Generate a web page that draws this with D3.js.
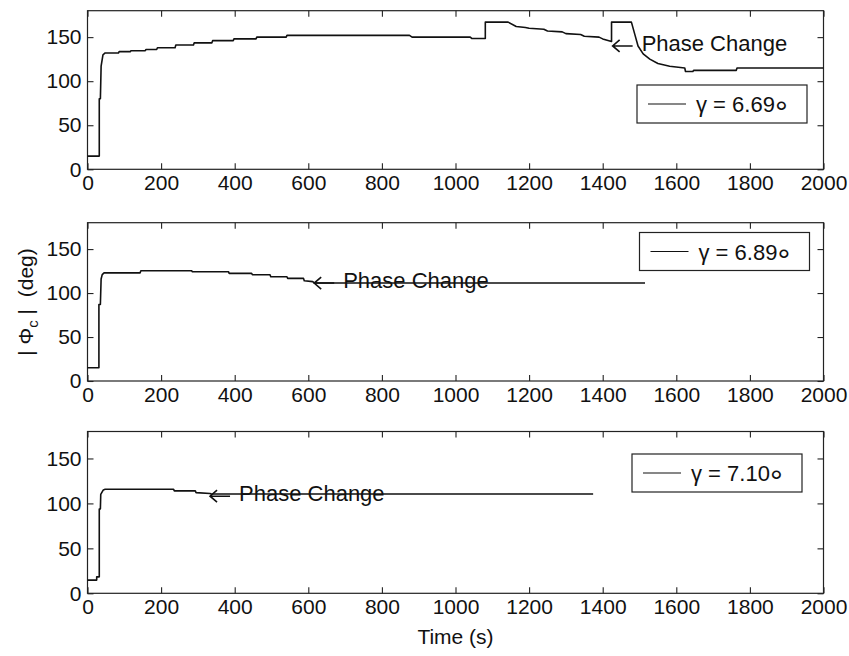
<!DOCTYPE html>
<html>
<head>
<meta charset="utf-8">
<script src="https://cdn.jsdelivr.net/npm/d3@7/dist/d3.min.js"></script>
<style>
  body { margin: 0; background: #fff; }
  text { font-family: "Liberation Sans", Arial, sans-serif; fill: #111; }
</style>
</head>
<body>
<script>
// tick values shared by the three panels
var timeTicks = [0, 200, 400, 600, 800, 1000, 1200, 1400, 1600, 1800, 2000];
var phiTicks = [0, 50, 100, 150];

var gammaLabels = ["γ = 6.69", "γ = 6.89", "γ = 7.10"];

// |Phi_c| (deg) vs time (s) as [t, value]
var phi669 = [[0,15],[32,15],[32,80],[35,80],[37,117],[42,130],[48,132],[84,132],[86,133.5],[116,133.5],[118,134.6],
  [157,134.6],[159,136],[188,136],[190,138],[238,138],[240,141],[288,141],[290,143.5],[338,143.5],[340,146],
  [396,146],[398,148],[458,148],[460,150],[540,150],[542,152],[875,152],[882,150],[1040,150],[1044,148.5],
  [1081,148.5],[1081,167],[1143,167],[1165,162],[1190,161],[1200,160],[1240,159],[1250,157],[1290,156],[1300,154],
  [1340,153],[1350,151],[1390,150],[1400,148],[1424,145],[1424,167],[1478,167],[1488,152],[1496,140],[1510,131],
  [1528,125],[1550,120],[1582,117],[1623,115],[1625,111],[1645,111],[1647,112.3],[1763,112.3],[1765,115],[2000,115]];

var phi689 = [[0,15],[31,15],[31,87],[35,87],[37,116],[40,121],[45,123],[143,123],[145,125.4],[283,125.4],
  [285,124.3],[383,124.3],[385,122.4],[446,122.4],[448,120.9],[496,120.9],[498,118.6],[542,118.6],
  [544,116.7],[587,116.7],[589,114],[612,113],[616,111.5],[1515,111.5]];

var phi710 = [[0,14.7],[25,14.7],[25,18.3],[32,18.3],[32,93.7],[35,93.7],[36,110],[43,115],[48,115.7],
  [234,115.7],[236,113.9],[293,113.9],[295,112],[333,111],[336,110.5],[1374,110.5]];

var seriesList = [phi669, phi689, phi710];

// "Phase Change" arrow tips in data units
var phaseTime = [1427, 616, 333];
var phaseValue = [140, 111.4, 108];

var svgWidth = 849;
var svgHeight = 656;

// three stacked axes (pixel boxes)
var panels = [
  { top: 10.7, bottom: 169.3, legendX: 637, legendY: 85 },
  { top: 222.7, bottom: 381, legendX: 639.5, legendY: 232.5 },
  { top: 431.5, bottom: 593.3, legendX: 632, legendY: 454 }
];
var left = 87.5, right = 823.5;

var svg = d3.select("body")
  .append("svg")
  .attr("width", svgWidth)
  .attr("height", svgHeight);

var xScale = d3.scaleLinear().domain([0, 2000]).range([left, right]);

panels.forEach(function(p, i) {
  var yScale = d3.scaleLinear().domain([0, 180]).range([p.bottom, p.top]);
  var g = svg.append("g");

  // box
  g.append("rect")
    .attr("x", left).attr("y", p.top)
    .attr("width", right - left).attr("height", p.bottom - p.top)
    .attr("fill", "none").attr("stroke", "#222").attr("stroke-width", 1.2);

  // inward ticks on all four sides
  var bottomAxis = d3.axisBottom(xScale).tickValues(timeTicks).tickFormat(d3.format("d"))
    .tickSize(-6).tickSizeOuter(0).tickPadding(6);
  var topAxis = d3.axisTop(xScale).tickValues(timeTicks).tickSize(-6).tickSizeOuter(0).tickFormat("");
  var leftAxis = d3.axisLeft(yScale).tickValues(phiTicks).tickSize(-6).tickSizeOuter(0).tickPadding(6);
  var rightAxis = d3.axisRight(yScale).tickValues(phiTicks).tickSize(-6).tickSizeOuter(0).tickFormat("");

  var axes = [
    g.append("g").attr("transform", `translate(0, ${p.bottom})`).call(bottomAxis),
    g.append("g").attr("transform", `translate(0, ${p.top})`).call(topAxis),
    g.append("g").attr("transform", `translate(${left}, 0)`).call(leftAxis),
    g.append("g").attr("transform", `translate(${right}, 0)`).call(rightAxis)
  ];
  axes.forEach(function(a) {
    a.select(".domain").remove();
    a.selectAll("line").attr("stroke", "#222").attr("stroke-width", 1.1);
    a.selectAll("text").attr("font-size", 21).attr("fill", "#111")
      .style("font-family", '"Liberation Sans", Arial, sans-serif');
  });

  // data line
  var line = d3.line()
    .x(d => xScale(d[0]))
    .y(d => yScale(d[1]));

  g.append("path")
    .datum(seriesList[i])
    .attr("d", line)
    .attr("fill", "none")
    .attr("stroke", "#111")
    .attr("stroke-width", 1.6)
    .attr("stroke-linejoin", "round");

  // Phase Change annotation with left arrow
  var ax = xScale(phaseTime[i]), ay = yScale(phaseValue[i]);
  g.append("path")
    .attr("d", `M${ax + 20},${ay} L${ax},${ay} M${ax + 7},${ay - 6} L${ax},${ay} L${ax + 7},${ay + 6}`)
    .attr("fill", "none").attr("stroke", "#111").attr("stroke-width", 1.6);
  g.append("text")
    .attr("x", ax + 29).attr("y", ay + 5)
    .attr("font-size", 22)
    .text("Phase Change");

  // legend
  var lg = g.append("g").attr("transform", `translate(${p.legendX}, ${p.legendY})`);
  lg.append("rect")
    .attr("width", 170).attr("height", 38)
    .attr("fill", "#fff").attr("stroke", "#222").attr("stroke-width", 1.2);
  lg.append("line")
    .attr("x1", 11).attr("x2", 49).attr("y1", 19).attr("y2", 19)
    .attr("stroke", "#111").attr("stroke-width", 1.2);
  var lt = lg.append("text").attr("x", 59).attr("y", 27).attr("font-size", 22).text(gammaLabels[i]);
  lt.append("tspan").attr("font-size", 32).attr("dy", 11).text("°");
});

// y label
var yl = svg.append("text")
  .attr("transform", "translate(33, 302) rotate(-90)")
  .attr("text-anchor", "middle")
  .attr("font-size", 21)
  .style("white-space", "pre");
yl.append("tspan").text("| Φ");
yl.append("tspan").attr("font-size", 15).attr("dy", 5).text("c");
yl.append("tspan").attr("dy", -5).text(" |  (deg)");

// x label
svg.append("text")
  .attr("x", (left + right) / 2).attr("y", 644)
  .attr("text-anchor", "middle")
  .attr("font-size", 21)
  .text("Time (s)");
</script>
</body>
</html>
